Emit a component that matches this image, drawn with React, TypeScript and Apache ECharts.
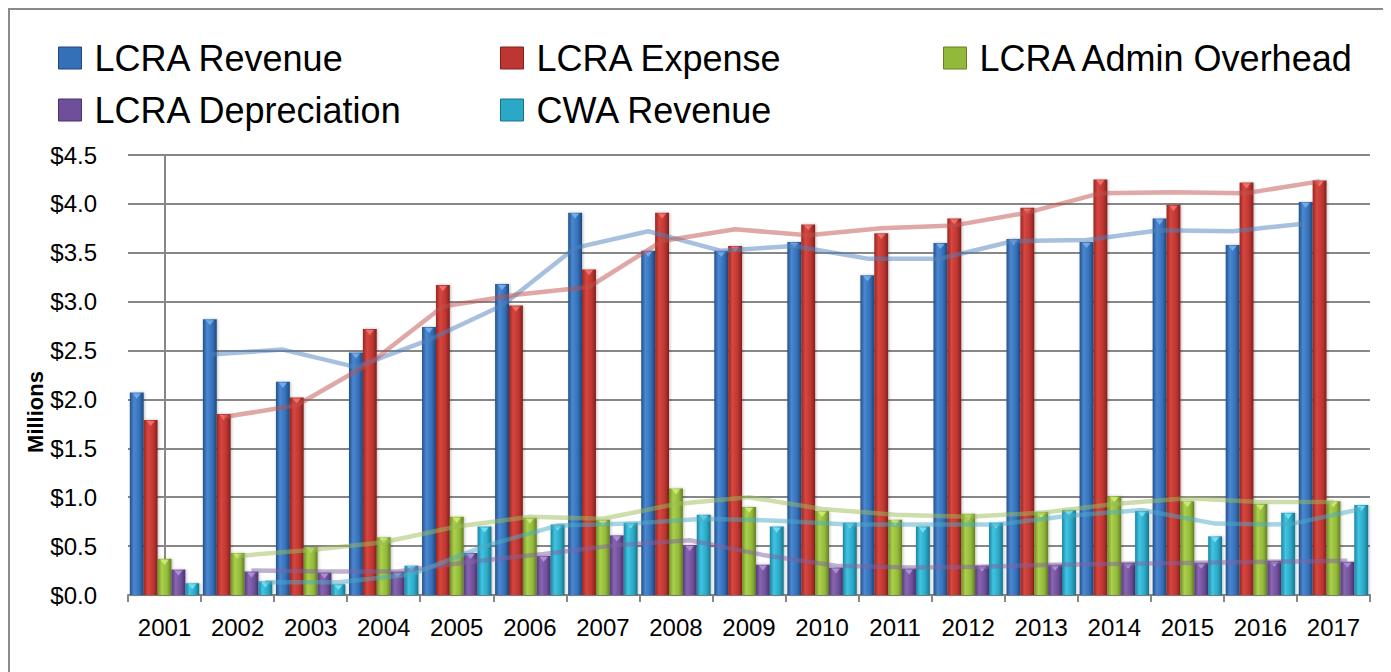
import React, { useEffect, useRef } from "react";
import * as echarts from "echarts";

const years = ["2001","2002","2003","2004","2005","2006","2007","2008","2009","2010","2011","2012","2013","2014","2015","2016","2017"];
const lcraRevenue = [2.07, 2.82, 2.18, 2.48, 2.74, 3.18, 3.91, 3.52, 3.52, 3.61, 3.27, 3.60, 3.64, 3.61, 3.85, 3.58, 4.02];
const lcraExpense = [1.79, 1.85, 2.02, 2.72, 3.17, 2.96, 3.33, 3.91, 3.57, 3.79, 3.70, 3.85, 3.96, 4.25, 3.99, 4.22, 4.24];
const lcraAdmin = [0.37, 0.43, 0.49, 0.59, 0.80, 0.79, 0.77, 1.09, 0.90, 0.86, 0.77, 0.83, 0.85, 1.01, 0.96, 0.93, 0.96];
const lcraDepreciation = [0.26, 0.24, 0.23, 0.24, 0.43, 0.40, 0.61, 0.51, 0.31, 0.28, 0.27, 0.30, 0.31, 0.33, 0.33, 0.35, 0.34];
const cwaRevenue = [0.12, 0.14, 0.11, 0.30, 0.70, 0.72, 0.74, 0.82, 0.70, 0.74, 0.70, 0.74, 0.87, 0.86, 0.60, 0.84, 0.92];

// trend lines (start at 2002)
const revenueTrend = [null, 2.46, 2.51, 2.33, 2.61, 2.96, 3.55, 3.72, 3.52, 3.57, 3.44, 3.44, 3.62, 3.63, 3.73, 3.72, 3.80];
const expenseTrend = [null, 1.82, 1.94, 2.37, 2.95, 3.07, 3.15, 3.62, 3.74, 3.68, 3.75, 3.78, 3.91, 4.11, 4.12, 4.11, 4.23];
const adminTrend = [null, 0.40, 0.46, 0.54, 0.70, 0.80, 0.78, 0.93, 1.00, 0.88, 0.82, 0.80, 0.84, 0.93, 0.99, 0.95, 0.95];
const deprTrend = [null, 0.25, 0.24, 0.24, 0.34, 0.42, 0.51, 0.56, 0.41, 0.30, 0.28, 0.29, 0.31, 0.32, 0.33, 0.34, 0.35];
const cwaTrend = [null, 0.13, 0.13, 0.21, 0.50, 0.71, 0.73, 0.78, 0.76, 0.72, 0.72, 0.72, 0.81, 0.87, 0.73, 0.72, 0.88];

const names = ["LCRA Revenue", "LCRA Expense", "LCRA Admin Overhead", "LCRA Depreciation", "CWA Revenue"];
const barData = [lcraRevenue, lcraExpense, lcraAdmin, lcraDepreciation, cwaRevenue];
const trendData = [revenueTrend, expenseTrend, adminTrend, deprTrend, cwaTrend];

const palettes = [
  ["#23508a", "#4a88d2", "#3470b8", "#1f477c"],
  ["#962622", "#d8463f", "#bd3631", "#82201d"],
  ["#6f8f27", "#abd04c", "#93b93a", "#627f22"],
  ["#553a7a", "#8866b2", "#6f4f9a", "#4a316b"],
  ["#1a84a0", "#41c4e2", "#2aa8c6", "#17738c"],
];
const capColors = ["#7fb0ea", "#f07a72", "#d4ef7a", "#b896de", "#7fe4f6"];
const lineColors = [
  "rgba(79,129,189,0.5)",
  "rgba(192,80,77,0.5)",
  "rgba(155,187,89,0.5)",
  "rgba(128,100,162,0.5)",
  "rgba(75,172,198,0.5)",
];

const CAT_GAP = 0.05;
const BAR_FRAC = (1 - CAT_GAP) / 5;

function grad(p: string[]) {
  return new echarts.graphic.LinearGradient(0, 0, 1, 0, [
    { offset: 0, color: p[0] },
    { offset: 0.3, color: p[1] },
    { offset: 0.7, color: p[2] },
    { offset: 1, color: p[3] },
  ]);
}

export default function App() {
  const ref = useRef<HTMLDivElement>(null);
  useEffect(() => {
    if (!ref.current) return;
    const chart = echarts.init(ref.current, undefined, { renderer: "svg" });
    const font = "'Liberation Sans', Arial, sans-serif";
    const gray = "#878787";

    const barSeries = names.map((n, k) => ({
      name: n,
      type: "bar",
      data: barData[k],
      barGap: "0%",
      barCategoryGap: "5%",
      itemStyle: { color: grad(palettes[k]), shadowColor: "rgba(0,0,0,0.25)", shadowBlur: 3, shadowOffsetX: 1 },
      emphasis: { disabled: true },
    }));

    const capSeries = names.map((n, k) => ({
      name: n + " cap",
      type: "pictorialBar",
      data: barData[k],
      barGap: "0%",
      barCategoryGap: "5%",
      symbol: "path://M0,0 L10,0 L5,6 Z",
      symbolSize: [8, 5],
      symbolPosition: "end",
      symbolOffset: [0, 1],
      itemStyle: { color: capColors[k], opacity: 0.85 },
      z: 3,
      silent: true,
      emphasis: { disabled: true },
    }));

    const lineSeries = names.map((n, k) => ({
      name: n + " trend",
      type: "line",
      xAxisIndex: 1,
      data: trendData[k]
        .map((v, i) => (v == null ? null : [i + (k - 2) * BAR_FRAC, v]))
        .filter((d) => d !== null),
      showSymbol: false,
      lineStyle: { color: lineColors[k], width: 4.5 },
      z: 5,
      emphasis: { disabled: true },
    }));

    const legendPos = [
      [45, 27], [487, 27], [930, 27], [45, 79], [487, 79],
    ];
    const legends = names.map((n, k) => ({
      left: legendPos[k][0],
      top: legendPos[k][1],
      data: [{ name: n, itemStyle: { color: palettes[k][2], borderColor: palettes[k][3], borderWidth: 1 } }],
      icon: "rect",
      itemWidth: 23,
      itemHeight: 22,
      selectedMode: false,
      textStyle: { fontSize: 36, fontFamily: font, color: "#000", padding: [0, 0, 0, 8] },
    }));

    chart.setOption({
      animation: false,
      backgroundColor: "#fff",
      textStyle: { fontFamily: font },
      legend: legends,
      grid: { left: 120, right: 16, top: 147, bottom: 83, containLabel: false },
      xAxis: [
        {
          type: "category",
          data: years,
          axisLine: { show: true, lineStyle: { color: gray, width: 2 } },
          axisTick: { show: true, length: 7, lineStyle: { color: gray, width: 2 } },
          axisLabel: { fontSize: 24, color: "#000", margin: 20, fontFamily: font },
        },
        { type: "value", min: -0.5, max: 16.5, show: false },
      ],
      yAxis: {
        type: "value",
        min: 0,
        max: 4.5,
        interval: 0.5,
        axisLine: { show: true, lineStyle: { color: gray, width: 2 } },
        axisTick: { show: true, length: 8, lineStyle: { color: gray, width: 2 } },
        axisLabel: {
          fontSize: 24,
          color: "#000",
          margin: 31,
          fontFamily: font,
          formatter: (v: number) => "$" + v.toFixed(1),
        },
        splitLine: { show: true, lineStyle: { color: gray, width: 2 } },
      },
      graphic: [
        {
          type: "rect",
          shape: { x: 1, y: 1, width: 1376, height: 700 },
          style: { fill: "none", stroke: "#8a8a8a", lineWidth: 2 },
          silent: true,
        },
        {
          type: "text",
          x: 27,
          y: 404,
          rotation: Math.PI / 2,
          style: {
            text: "Millions",
            fontSize: 22,
            fontWeight: "bold",
            fontFamily: font,
            fill: "#000",
            align: "center",
            verticalAlign: "middle",
          },
          silent: true,
        },
      ],
      series: [...barSeries, ...capSeries, ...lineSeries],
    });
    return () => chart.dispose();
  }, []);
  return <div ref={ref} style={{ width: 1378, height: 670 }} />;
}
